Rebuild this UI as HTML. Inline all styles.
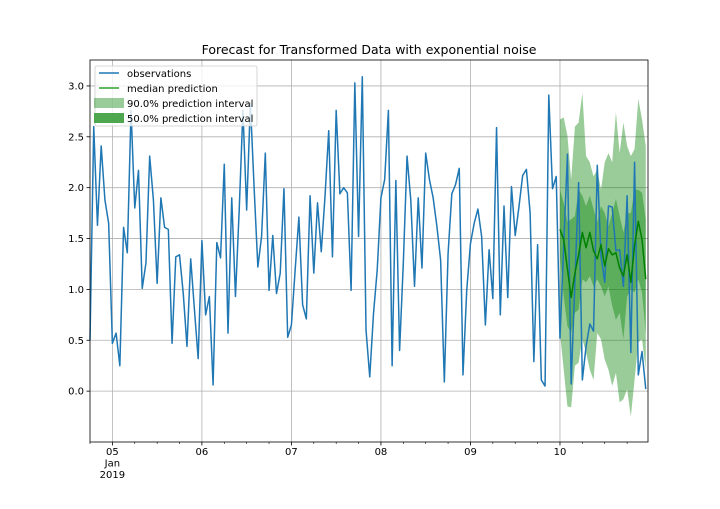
<!DOCTYPE html>
<html><head><meta charset="utf-8"><style>
body{margin:0;background:#fff}
svg text{font-family:"DejaVu Sans","Liberation Sans",sans-serif}
</style></head><body>
<svg id="chart" width="720" height="504" viewBox="0 0 720 504" xmlns="http://www.w3.org/2000/svg">
<rect width="720" height="504" fill="#fff"/>
<text x="369" y="54" text-anchor="middle" font-size="12.5" fill="#000">Forecast for Transformed Data with exponential noise</text>
<g id="grid"></g>
<g id="fills"></g>
<g id="lines"></g>
<rect x="90" y="60" width="558" height="382" fill="none" stroke="#000" stroke-width="0.8"/>
<g id="axes"></g>
<g id="legend">
<rect x="95" y="66" width="162" height="60" rx="2" fill="#fff" fill-opacity="0.8" stroke="#ccc" stroke-width="0.8"/>
<line x1="99" y1="73" x2="119" y2="73" stroke="#1f77b4" stroke-width="1.5"/>
<text x="127" y="77" font-size="10">observations</text>
<line x1="99" y1="88" x2="119" y2="88" stroke="#2ca02c" stroke-width="1.5"/>
<text x="127" y="92" font-size="10">median prediction</text>
<rect x="94" y="98" width="30" height="10" fill="#008000" fill-opacity="0.4"/>
<text x="127" y="107" font-size="10">90.0% prediction interval</text>
<rect x="94" y="113" width="30" height="10" fill="#4ea64e"/>
<text x="127" y="122" font-size="10">50.0% prediction interval</text>
</g>
</svg>
<script>
const obs = [0.5,2.6,1.63,2.41,1.88,1.65,0.47,0.57,0.25,1.61,1.36,2.76,1.8,2.17,1.01,1.26,2.31,1.88,1.06,1.9,1.61,1.59,0.47,1.32,1.34,0.96,0.44,1.3,0.8,0.32,1.48,0.75,0.93,0.06,1.46,1.31,2.23,0.57,1.9,0.93,1.78,2.76,1.78,2.83,2.0,1.22,1.52,2.34,0.99,1.53,0.96,1.16,1.99,0.53,0.65,1.19,1.71,0.85,0.71,1.92,1.16,1.85,1.37,1.91,2.56,1.32,2.76,1.94,2.0,1.95,0.99,3.03,1.52,3.09,0.6,0.14,0.76,1.19,1.9,2.08,2.76,0.25,2.07,0.4,1.26,2.31,1.88,1.03,1.9,1.21,2.34,2.08,1.9,1.62,1.29,0.09,1.35,1.94,2.03,2.19,0.16,0.99,1.45,1.65,1.79,1.52,0.65,1.39,0.91,2.59,0.75,1.82,0.92,2.01,1.53,1.81,2.12,2.18,1.75,0.29,1.44,0.11,0.05,2.91,1.99,2.11,0.52,1.43,2.33,0.07,1.07,2.05,0.11,0.44,0.66,0.59,2.22,1.33,1.07,1.82,1.81,1.38,1.39,1.03,1.92,0.38,2.25,0.16,0.39,0.02];
const median = [1.59,1.49,1.2,0.92,1.16,1.34,1.56,1.41,1.56,1.38,1.3,1.44,1.23,1.4,1.34,1.36,1.21,1.13,1.34,1.07,1.43,1.67,1.49,1.1];
const p50hi = [1.98,1.85,1.66,1.69,1.72,1.98,1.92,1.82,1.92,1.79,1.66,1.82,1.75,1.62,1.75,1.89,1.72,1.56,1.75,1.75,1.98,1.98,1.95,1.69];
const p50lo = [1.33,0.93,0.64,0.57,0.77,0.8,1.1,1.07,1.13,1.03,1.1,1.03,0.93,1.03,0.84,0.7,0.77,0.51,0.93,1.0,0.97,1.1,0.97,0.57];
const p90hi = [2.67,2.69,2.51,2.08,2.6,2.64,2.93,2.31,2.25,2.11,2.18,1.98,2.25,2.34,2.25,2.74,2.34,2.64,2.41,2.31,2.38,2.87,2.67,2.41];
const p90lo = [0.57,0.21,-0.15,-0.16,0.25,0.28,0.51,0.38,0.21,0.11,0.57,0.51,0.31,0.21,0.05,0.18,-0.11,-0.08,0.02,-0.25,0.11,0.48,0.51,0.21];
const yTicks = [0.0,0.5,1.0,1.5,2.0,2.5,3.0];
const xTickLabels = ["05","06","07","08","09","10"];
const startHour = -6;
const forecastStart = 120;

const X0=90,X1=648,Y0=60,Y1=442, yMin=-0.5, yMax=3.255;
const hStart=-6, hEnd=143.6;
const xs = h => X0 + (h-hStart)/(hEnd-hStart)*(X1-X0);
const ys = v => Y1 - (v-yMin)/(yMax-yMin)*(Y1-Y0);
const NS="http://www.w3.org/2000/svg";
function mk(tag, parent, attrs){const e=document.createElementNS(NS,tag);for(const k in attrs)e.setAttribute(k,attrs[k]);document.getElementById(parent).appendChild(e);return e;}

yTicks.forEach(v=>{
  const g=mk('line','grid',{x1:X0,x2:X1,y1:ys(v),y2:ys(v),stroke:'#b0b0b0','stroke-width':0.8});
  
  
  const t=mk('line','axes',{x1:X0-3.5,x2:X0,y1:ys(v),y2:ys(v),stroke:'#000','stroke-width':0.8});
  
  
  const l=mk('text','axes',{x:X0-6,y:ys(v)+3.5,'text-anchor':'end','font-size':10});
  
  
  l.textContent=v.toFixed(1);
});
xTickLabels.forEach((s,i)=>{
  const x=xs(i*24);
  const g=mk('line','grid',{x1:x,x2:x,y1:Y0,y2:Y1,stroke:'#b0b0b0','stroke-width':0.8});
  
  
  const t=mk('line','axes',{x1:x,x2:x,y1:Y1,y2:Y1+3.5,stroke:'#000','stroke-width':0.8});
  
  
  const l=mk('text','axes',{x:x,y:Y1+13,'text-anchor':'middle','font-size':10});
  
  
  l.textContent=s;
});
for(let h=hStart;h<=hEnd;h+=6){ if(h%24===0) continue;
  const m=mk('line','axes',{x1:xs(h),x2:xs(h),y1:Y1,y2:Y1+2,stroke:'#000','stroke-width':0.6});
  
  
}
const jan=mk('text','axes',{x:xs(0),y:Y1+24.5,'text-anchor':'middle','font-size':10});


jan.textContent='Jan';
const yr=mk('text','axes',{x:xs(0),y:Y1+36,'text-anchor':'middle','font-size':10});


yr.textContent='2019';

function band(lo,hi){
  let d='';
  hi.forEach((v,i)=>{d+=(i?'L':'M')+xs(forecastStart+i).toFixed(2)+','+ys(v).toFixed(2);});
  for(let i=lo.length-1;i>=0;i--) d+='L'+xs(forecastStart+i).toFixed(2)+','+ys(lo[i]).toFixed(2);
  return d+'Z';
}
const b90=mk('path','fills',{d:band(p90lo,p90hi),fill:'#008000','fill-opacity':0.4});


const b50=mk('path','fills',{d:band(p50lo,p50hi),fill:'#008000','fill-opacity':0.4});



const op=mk('polyline','lines',{points:obs.map((v,i)=>xs(startHour+i).toFixed(2)+','+ys(v).toFixed(2)).join(' '),fill:'none',stroke:'#1f77b4','stroke-width':1.5,'stroke-linejoin':'round'});


const md=mk('polyline','lines',{points:median.map((v,i)=>xs(forecastStart+i).toFixed(2)+','+ys(v).toFixed(2)).join(' '),fill:'none',stroke:'#008000','stroke-width':1.5,'stroke-linejoin':'round'});


</script>
</body></html>
